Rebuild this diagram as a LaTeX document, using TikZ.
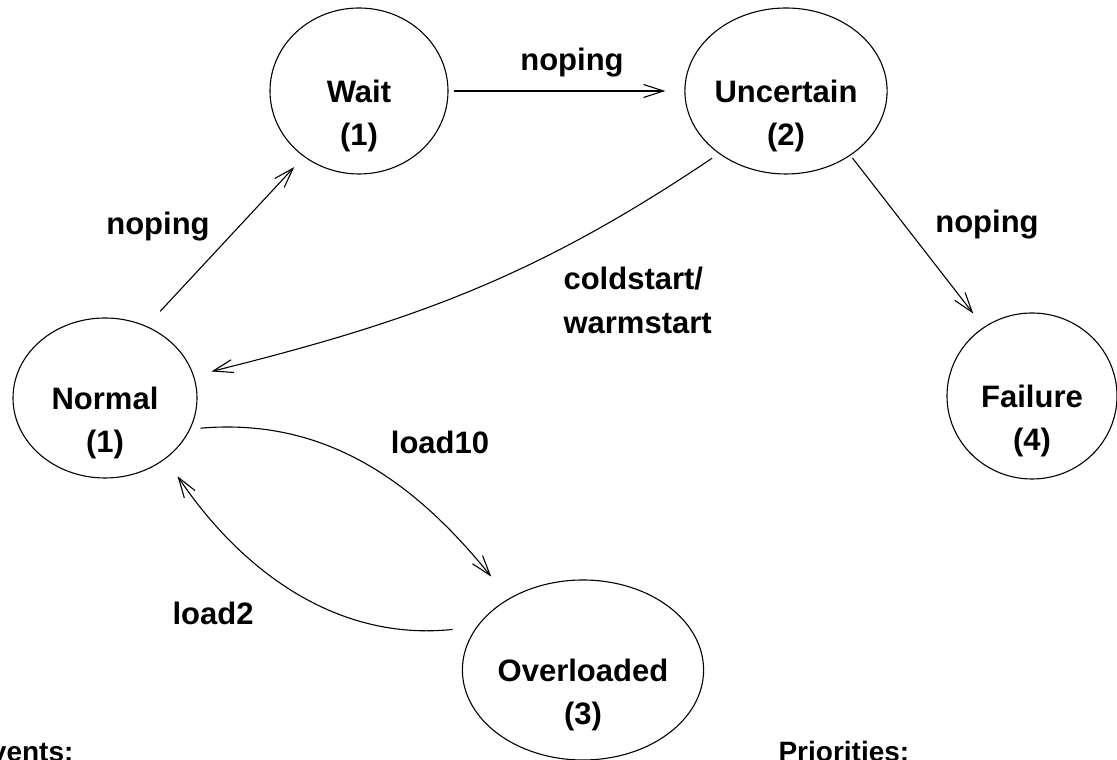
\documentclass[tikz,border=0pt]{standalone}
\usepackage{fontspec}
\setmainfont{Liberation Sans}
\usepackage{tikz}
\usetikzlibrary{arrows.meta, positioning, shapes.geometric}

\begin{document}
\begin{tikzpicture}[x=1pt, y=1pt, line width=1.1pt,
	>={Straight Barb[length=20pt, width=13pt]},
	every node/.style={font=\fontsize{31}{44}\selectfont\bfseries},
	state/.style={draw, ellipse, inner sep=0pt},
	legend/.style={inner sep=0pt, font=\fontsize{28}{34}\selectfont\bfseries}]

\def \xw{1117}
\def \xh{760}

\useasboundingbox (0,0) rectangle (\xw,\xh);
\clip (0,0) rectangle (\xw,\xh);

% states: name / x / y / width / height / text / priority
\foreach \nm/\x/\y/\w/\h/\txt/\pr in {
	wait/359/669/178/166/Wait/1,
	uncertain/786/669/178/166/Uncertain/2,
	normal/105/362/184/160/Normal/1,
	failure/1032/364/170/166/Failure/4,
	overloaded/583/90/208/180/Overloaded/3} {
	\node[state, minimum width=\w pt, minimum height=\h pt] (\nm) at (\x,\y) {\txt};
	\node (\nm prio) at ([yshift=-46pt]\nm.center) {(\pr)}; % priority
}

% transitions
\draw[->, shorten <=20pt, shorten >=14pt] (normal.60) -- (wait.230);
\draw[->, shorten <=5pt, shorten >=19pt] (wait.east) -- (uncertain.west);
\draw[->, shorten <=3pt, shorten >=17pt] (uncertain.-45) -- (failure.125);
\draw[->, shorten <=8pt, shorten >=18pt] (uncertain.223) to[out=214, in=14] (normal.14);
\draw[->, shorten <=10pt, shorten >=28pt] (normal.-20) to[out=5, in=129] (overloaded.136);
\draw[->, shorten <=24pt, shorten >=21pt] (overloaded.158) to[out=186, in=-56] (normal.-45);

% events
\node (noping wait) at (158,533) {noping};
\node (noping uncertain) at (572,697) {noping};
\node (noping failure) at (987,535) {noping};
\node[anchor=west, align=left, inner xsep=0pt] (start) at (563,460) {coldstart/\\warmstart};
\node (load ten) at (440,318) {load10};
\node (load two) at (213,147) {load2};

\node[legend, anchor=base east] (events) at (74,-1.5) {Events:};
\node[legend, anchor=base west] (priorities) at (778,-1.5) {Priorities:};

\end{tikzpicture}
\end{document}
